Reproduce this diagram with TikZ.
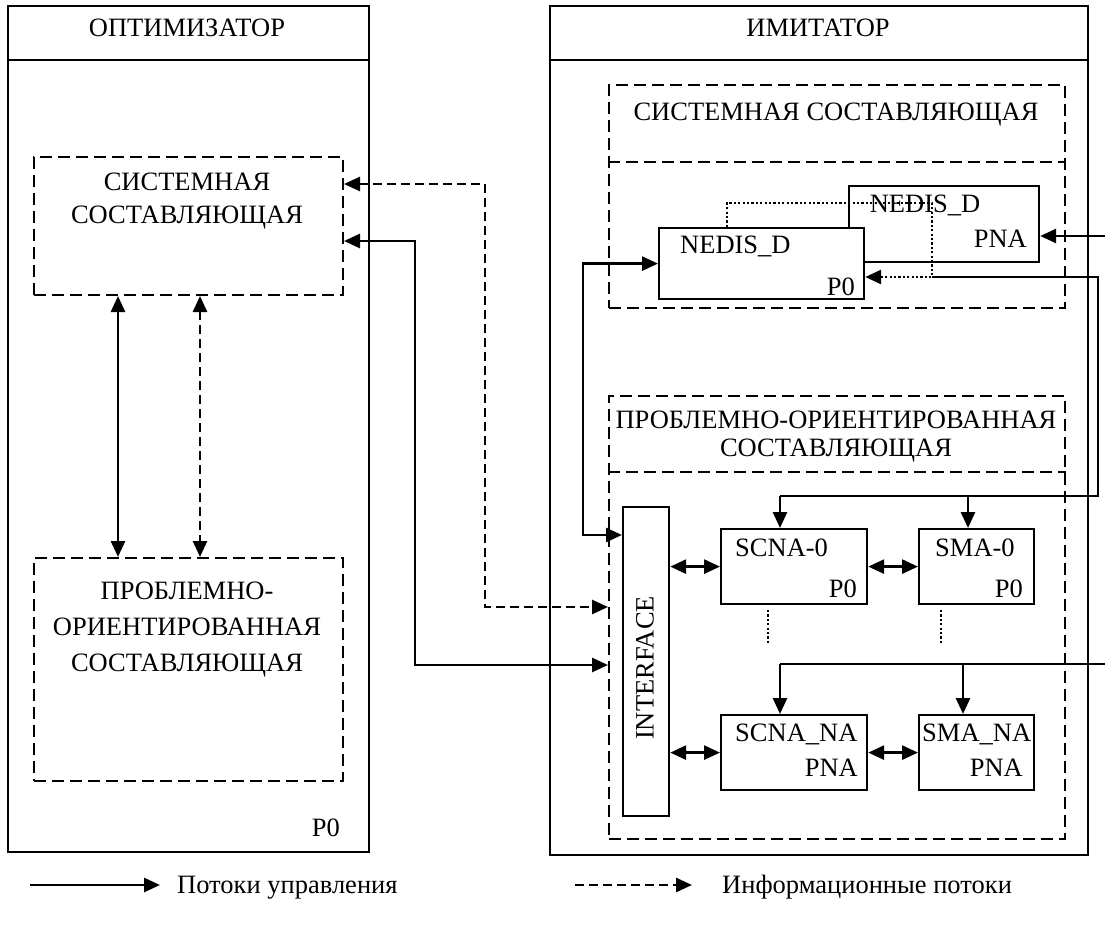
\documentclass[tikz,border=0pt]{standalone}
\usepackage{fontspec}
\setmainfont{Liberation Serif}
\usetikzlibrary{arrows.meta,calc}
\begin{document}
\begin{tikzpicture}[x=1pt,y=-1pt,
 txt/.style={inner sep=0pt,font=\fontsize{26.5}{30}\selectfont},
 box/.style={draw,line width=2.2pt,inner sep=0pt,anchor=north west},
 dbox/.style={draw,line width=2pt,dash pattern=on 12pt off 6pt,inner sep=0pt,anchor=north west},
 dline/.style={line width=2pt,dash pattern=on 12pt off 6pt},
 sline/.style={line width=2.2pt},
 tip/.style={-{Triangle[length=16pt,width=14pt]}},
 dtip/.style={{Triangle[length=16pt,width=14pt]}-{Triangle[length=16pt,width=14pt]}},
 flow/.style={line width=2.8pt},
 info/.style={line width=2.6pt,dash pattern=on 9pt off 5pt},
 dots/.style={line width=2.8pt,dash pattern=on 2.2pt off 2.2pt},
]
\useasboundingbox (0,0) rectangle (1105,928);
% outer boxes
\node[box,minimum width=361pt,minimum height=846pt] (opt) at (7,5) {};
\node[box,minimum width=538pt,minimum height=849pt] (imit) at (549,5) {};
\coordinate (hy) at (0,60);
\draw[sline] (opt.west |- hy) -- (opt.east |- hy);
\draw[sline] (imit.west |- hy) -- (imit.east |- hy);
% dashed components
\node[dbox,minimum width=309pt,minimum height=138pt] (sysL) at (33,156) {};
\node[dbox,minimum width=309pt,minimum height=223pt] (probL) at (33,557) {};
\node[dbox,minimum width=456pt,minimum height=223pt] (sysR) at (608,84) {};
\node[dbox,minimum width=456pt,minimum height=443pt] (probR) at (608,395) {};
\coordinate (sy) at (0,162);
\coordinate (py) at (0,472);
\draw[dline] (sysR.west |- sy) -- (sysR.east |- sy);
\draw[dline] (probR.west |- py) -- (probR.east |- py);
% inner boxes
\node[box,minimum width=190pt,minimum height=76pt] (nedisB) at (848,185) {};
\node[box,fill=white,minimum width=205pt,minimum height=71pt] (nedisF) at (658,227) {};
\node[box,minimum width=46pt,minimum height=309pt] (iface) at (622,506) {};
\node[box,minimum width=146pt,minimum height=75pt] (scna0) at (720,528) {};
\node[box,minimum width=115pt,minimum height=75pt] (sma0) at (918,528) {};
\node[box,minimum width=146pt,minimum height=75pt] (scnaNA) at (720,714) {};
\node[box,minimum width=115pt,minimum height=75pt] (smaNA) at (918,714) {};
% texts
\node[txt,anchor=base] (optT) at (187,37) {ОПТИМИЗАТОР};
\node[txt,anchor=base] (imitT) at (818,37) {ИМИТАТОР};
\node[txt,anchor=base] (sysLt1) at (187,190) {СИСТЕМНАЯ};
\node[txt,anchor=base] (sysLt2) at (187,223) {СОСТАВЛЯЮЩАЯ};
\node[txt,anchor=base] (probLt1) at (187,599) {ПРОБЛЕМНО-};
\node[txt,anchor=base] (probLt2) at (187,635) {ОРИЕНТИРОВАННАЯ};
\node[txt,anchor=base] (probLt3) at (187,671) {СОСТАВЛЯЮЩАЯ};
\node[txt,anchor=base east] (optP) at (340,836) {P0};
\node[txt,anchor=base] (sysRt) at (836,121) {СИСТЕМНАЯ СОСТАВЛЯЮЩАЯ};
\node[txt,anchor=base] (probRt1) at (836,428) {ПРОБЛЕМНО-ОРИЕНТИРОВАННАЯ};
\node[txt,anchor=base] (probRt2) at (836,456) {СОСТАВЛЯЮЩАЯ};
\node[txt,anchor=base] (nedisBt) at (925,212) {NEDIS\_D};
\node[txt,anchor=base east] (nedisBp) at (1027,247) {PNA};
\node[txt,anchor=base west] (nedisFt) at (680,253) {NEDIS\_D};
\node[txt,anchor=base east] (nedisFp) at (855,295) {P0};
\node[txt,anchor=base west] (scna0t) at (735,556) {SCNA-0};
\node[txt,anchor=base east] (scna0p) at (857,597) {P0};
\node[txt,anchor=base west] (sma0t) at (935,556) {SMA-0};
\node[txt,anchor=base east] (sma0p) at (1023,597) {P0};
\node[txt,anchor=base west] (scnaNAt) at (735,741) {SCNA\_NA};
\node[txt,anchor=base east] (scnaNAp) at (858,776) {PNA};
\node[txt,anchor=base west] (smaNAt) at (922,741) {SMA\_NA};
\node[txt,anchor=base east] (smaNAp) at (1023,776) {PNA};
\node[txt,rotate=90] (ifT) at (645,668) {INTERFACE};
% left vertical arrows
\coordinate (vx1) at (118,0);
\coordinate (vx2) at (200,0);
\draw[flow,dtip] (sysL.south -| vx1) -- (probL.north -| vx1);
\draw[info,dtip] (sysL.south -| vx2) -- (probL.north -| vx2);
% optimizer <-> imitator
\coordinate (dA) at (485,184);
\coordinate (dB) at (485,607);
\draw[info,dtip] (sysL.east |- dA) -- (dA) -- (dB) -- (dB -| probR.west);
\coordinate (sA) at (415,241);
\coordinate (sB) at (415,665);
\draw[flow,dtip] (sysL.east |- sA) -- (sA) -- (sB) -- (sB -| probR.west);
% nedis <-> interface
\coordinate (ifA) at (583,535);
\draw[flow,dtip] (nedisF.west) -| (ifA) -- (ifA -| iface.west);
% dotted feedback
\coordinate (dt1) at (727,227);
\coordinate (dt2) at (932,203);
\coordinate (dt3) at (932,277);
\draw[dots,tip] (dt1) |- (dt2) -- (dt3) -- (dt3 -| nedisF.east);
% solid loop
\coordinate (lpB) at (1098,277);
\coordinate (lpC) at (1098,496);
\coordinate (lpD) at (780,496);
\coordinate (lpE) at (968,496);
\draw[flow] (dt3) -- (lpB) -- (lpC) -- (lpD);
\draw[flow,tip] (lpD) -- (lpD |- scna0.north);
\draw[flow,tip] (lpE) -- (lpE |- sma0.north);
% inputs from the right
\coordinate (inA) at (1105,236);
\draw[flow,tip] (inA) -- (inA -| nedisB.east);
\coordinate (inB) at (1105,664);
\coordinate (inC) at (780,664);
\coordinate (inD) at (963,664);
\draw[flow] (inB) -- (inC);
\draw[flow,tip] (inC) -- (inC |- scnaNA.north);
\draw[flow,tip] (inD) -- (inD |- smaNA.north);
% chains
\draw[flow,dtip] (iface.east |- scna0.west) -- (scna0.west);
\draw[flow,dtip] (scna0.east) -- (sma0.west);
\draw[flow,dtip] (iface.east |- scnaNA.west) -- (scnaNA.west);
\draw[flow,dtip] (scnaNA.east) -- (smaNA.west);
% dotted continuation marks
\coordinate (m1a) at (768,610);
\coordinate (m1b) at (768,645);
\coordinate (m2a) at (941,610);
\coordinate (m2b) at (941,645);
\draw[dots] (m1a) -- (m1b);
\draw[dots] (m2a) -- (m2b);
% legend
\coordinate (lg1) at (30,885);
\coordinate (lg2) at (160,885);
\draw[flow,tip] (lg1) -- (lg2);
\node[txt,anchor=base west] (lgT1) at (177,893) {Потоки управления};
\coordinate (lg3) at (575,885);
\coordinate (lg4) at (692,885);
\draw[info,tip] (lg3) -- (lg4);
\node[txt,anchor=base west] (lgT2) at (722,893) {Информационные потоки};
\end{tikzpicture}
\end{document}
